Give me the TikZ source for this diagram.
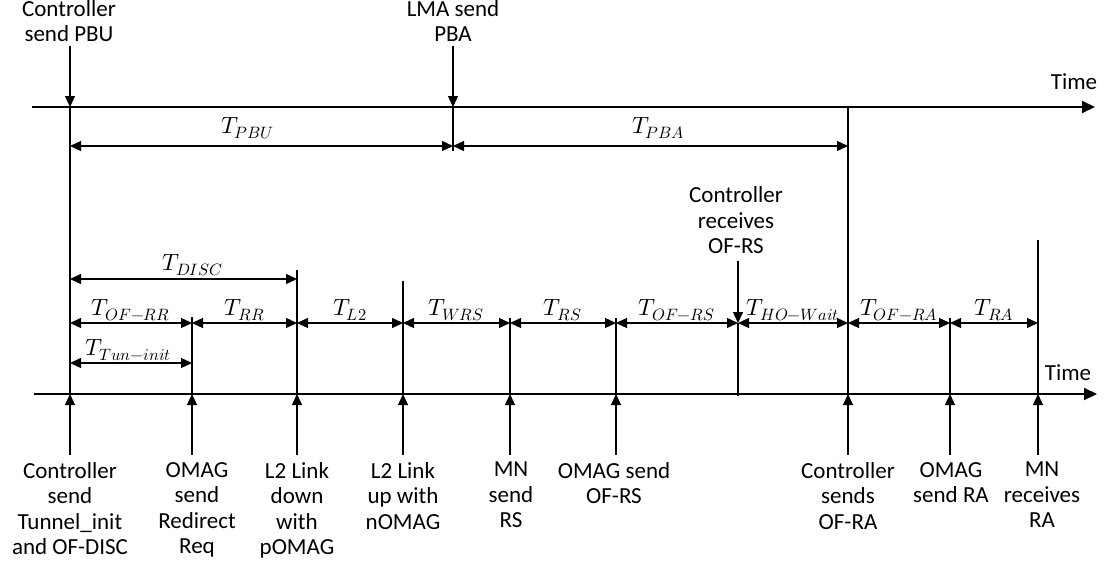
\documentclass[tikz,border=0pt]{standalone}
\usepackage{fontspec}
\usepackage{unicode-math}
\setmainfont{Carlito}
\setmathfont{Latin Modern Math}
\usetikzlibrary{arrows.meta}
\tikzset{
  ln/.style={line width=1.3pt, black},
  ax/.style={line width=2pt, black, -{Triangle[length=13pt,width=12pt]}},
  evt/.style={ln, -{Triangle[length=11pt,width=10pt]}},
  dim/.style={ln, {Triangle[length=11pt,width=10pt]}-{Triangle[length=11pt,width=10pt]}},
  lbl/.style={font=\fontsize{23}{25.5}\selectfont, align=center, inner sep=0pt},
  dl/.style={font=\fontsize{23.5}{26}\selectfont, inner sep=0pt, anchor=base},
}
\begin{document}
\begin{tikzpicture}[x=1pt,y=-1pt]
\useasboundingbox (0,0) rectangle (1110,565);
% axes
\coordinate (a1s) at (32,107); \coordinate (a1e) at (1095,107);
\coordinate (a2s) at (34,394); \coordinate (a2e) at (1097,394);
\draw[ax] (a1s) -- (a1e);
\draw[ax] (a2s) -- (a2e);
\node[lbl, anchor=base] (time1) at (1074,89) {Time};
\node[lbl, anchor=base] (time2) at (1068,380) {Time};
% event coordinates
\foreach \n/\x in {c0/70, om/192, ld/297, lu/403, mn/510, rs/616, cr/738, ca/848, ra/950, mr/1038, lm/453}{
  \coordinate (\n-top) at (\x,107);
  \coordinate (\n-dim) at (\x,146);
  \coordinate (\n-row) at (\x,323);
  \coordinate (\n-bot) at (\x,394);
  \coordinate (\n-low) at (\x,455);
}
% top events
\coordinate (c0-up) at (70,46);
\coordinate (lm-up) at (453,46);
\draw[evt] (c0-up) -- (c0-top);
\draw[evt] (lm-up) -- (lm-top);
\node[lbl, anchor=south] (tpbu) at (69,42) {Controller\\send PBU};
\node[lbl, anchor=south] (tpba) at (453,42) {LMA send\\PBA};
% vertical lines
\coordinate (lm-end) at (453,151);
\coordinate (om-start) at (192,317);
\coordinate (ld-start) at (297,270);
\coordinate (lu-start) at (403,281);
\coordinate (mn-start) at (510,318);
\coordinate (rs-start) at (616,318);
\coordinate (ra-start) at (950,318);
\coordinate (mr-start) at (1038,240);
\coordinate (cr-start) at (738,261);
\coordinate (cr-end) at (738,396);
\draw[ln] (c0-top) -- (c0-bot);
\draw[ln] (lm-top) -- (lm-end);
\draw[ln] (ca-top) -- (ca-bot);
\foreach \n in {om,ld,lu,mn,rs,ra,mr} \draw[ln] (\n-start) -- (\n-bot);
\draw[evt] (cr-start) -- (cr-row);
\draw[ln] (cr-row) -- (cr-end);
\node[lbl, anchor=south] (crx) at (736,254) {Controller\\receives\\OF-RS};
% upward event arrows
\foreach \n in {c0,om,ld,lu,mn,rs,ca,ra,mr} \draw[evt] (\n-low) -- (\n-bot);
% dimension arrows
\draw[dim] (c0-dim) -- node[dl, pos=0.464, above=13pt, anchor=base] (lpbu) {$T_{PBU}$} (lm-dim);
\draw[dim] (lm-dim) -- node[dl, pos=0.52, above=13pt, anchor=base] (lpba) {$T_{PBA}$} (ca-dim);
\coordinate (disc-l) at (70,279); \coordinate (disc-r) at (297,279);
\draw[dim] (disc-l) -- node[dl, pos=0.54, above=9pt, anchor=base] (ldisc) {$T_{DISC}$} (disc-r);
\coordinate (tun-l) at (70,363); \coordinate (tun-r) at (192,363);
\draw[dim] (tun-l) -- node[dl, pos=0.48, above=8pt, anchor=base] (ltun) {$T_{Tun-init}$} (tun-r);
\draw[dim] (c0-row) -- node[dl, above=8pt, anchor=base] (lofrr) {$T_{OF-RR}$} (om-row);
\draw[dim] (om-row) -- node[dl, above=8pt, anchor=base] (lrr) {$T_{RR}$} (ld-row);
\draw[dim] (ld-row) -- node[dl, above=8pt, anchor=base] (ll2) {$T_{L2}$} (lu-row);
\draw[dim] (lu-row) -- node[dl, above=8pt, anchor=base] (lwrs) {$T_{WRS}$} (mn-row);
\draw[dim] (mn-row) -- node[dl, above=8pt, anchor=base] (lrs) {$T_{RS}$} (rs-row);
\draw[dim] (rs-row) -- node[dl, above=8pt, anchor=base] (lofrs) {$T_{OF-RS}$} (cr-row);
\draw[dim] (cr-row) -- node[dl, above=8pt, anchor=base] (lho) {$T_{HO-Wait}$} (ca-row);
\draw[dim] (ca-row) -- node[dl, above=8pt, anchor=base] (lofra) {$T_{OF-RA}$} (ra-row);
\draw[dim] (ra-row) -- node[dl, above=8pt, anchor=base] (lra) {$T_{RA}$} (mr-row);
% bottom labels
\node[lbl, anchor=north] (b1) at (70,462) {Controller\\send\\Tunnel\_init\\and OF-DISC};
\node[lbl, anchor=north] (b2) at (197,462) {OMAG\\send\\Redirect\\Req};
\node[lbl, anchor=north] (b3) at (297,462) {L2 Link\\down\\with\\pOMAG};
\node[lbl, anchor=north] (b4) at (403,462) {L2 Link\\up with\\nOMAG};
\node[lbl, anchor=north] (b5) at (511,462) {MN\\send\\RS};
\node[lbl, anchor=north] (b6) at (614,462) {OMAG send\\OF-RS};
\node[lbl, anchor=north] (b7) at (848,462) {Controller\\sends\\OF-RA};
\node[lbl, anchor=north] (b8) at (951,462) {OMAG\\send RA};
\node[lbl, anchor=north] (b9) at (1042,462) {MN\\receives\\RA};
\end{tikzpicture}
\end{document}
